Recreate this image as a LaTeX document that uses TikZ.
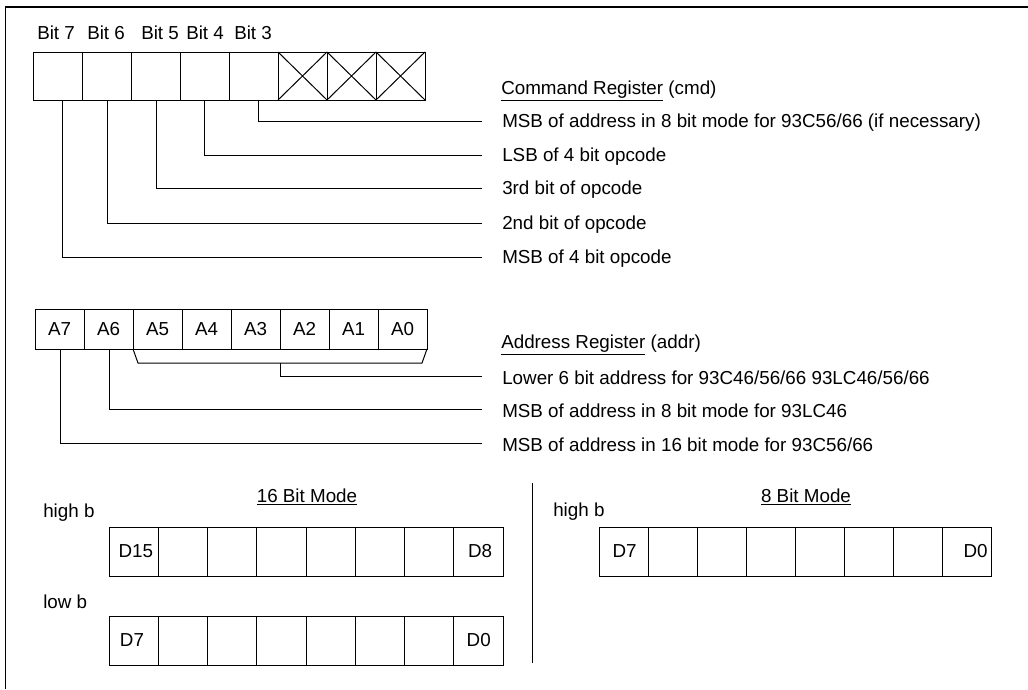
\documentclass[tikz,border=0pt]{standalone}
\usepackage{fontspec}
\setmainfont{Liberation Sans}
\usetikzlibrary{calc}
\tikzset{
  txt/.style={font=\fontsize{14.1}{16}\selectfont, inner sep=0pt, anchor=west},
  ctxt/.style={font=\fontsize{14.1}{16}\selectfont, inner sep=0pt, anchor=center},
  cell/.style={draw, line width=0.75pt, minimum width=36.75pt, minimum height=36pt, inner sep=0pt, outer sep=0pt, anchor=north west},
  acell/.style={cell, minimum height=30pt, font=\fontsize{14.1}{16}\selectfont},
  dcell/.style={cell, minimum width=36.94pt, minimum height=36.75pt},
  lead/.style={line width=0.75pt},
}
\begin{document}
\begin{tikzpicture}[x=0.75pt,y=-0.75pt]
\useasboundingbox (0,0) rectangle (1028,689);
% frame
\draw[line width=1pt] (5.5,689) -- (5.5,7) -- (1028,7);

% command register
\foreach \i/\n in {0/7,1/6,2/5,3/4,4/3,5/2,6/1,7/0}
  \node[cell] (c\n) at ({33+49*\i},52) {};
\foreach \n in {2,1,0}
  \draw[lead] (c\n.north west) -- (c\n.south east) (c\n.north east) -- (c\n.south west);
\node[txt] (b7) at (37,33) {Bit 7};
\node[txt] (b6) at (87,33) {Bit 6};
\node[txt] (b5) at (141,33) {Bit 5};
\node[txt] (b4) at (186,33) {Bit 4};
\node[txt] (b3) at (234,33) {Bit 3};

\node[txt] (cmd) at (501,91) {\underline{Command Register} (cmd)};
\node[txt] (t3) at (502,123) {MSB of address in 8 bit mode for 93C56/66 (if necessary)};
\node[txt] (t4) at (502,157) {LSB of 4 bit opcode};
\node[txt] (t5) at (502,190) {3rd bit of opcode};
\node[txt] (t6) at (502,225) {2nd bit of opcode};
\node[txt] (t7) at (502,259) {MSB of 4 bit opcode};
\draw[lead] ([xshift=3.4pt]c3.south) |- ([xshift=-15pt,yshift=1.5pt]t3.west);
\draw[lead] ([xshift=0pt]c4.south) |- ([xshift=-15pt,yshift=1.5pt]t4.west);
\draw[lead] ([xshift=1.1pt]c5.south) |- ([xshift=-15pt,yshift=1.5pt]t5.west);
\draw[lead] ([xshift=1.1pt]c6.south) |- ([xshift=-15pt,yshift=1.5pt]t6.west);
\draw[lead] ([xshift=3.4pt]c7.south) |- ([xshift=-15pt,yshift=1.5pt]t7.west);

% address register
\foreach \i/\n in {0/7,1/6,2/5,3/4,4/3,5/2,6/1,7/0}
  \node[acell] (a\n) at ({35+49*\i},309) {A\n};
\coordinate (brl) at (138,363);
\coordinate (brr) at (422,363);
\coordinate (brm) at (280,363);
\draw[lead] (a5.south west) -- (brl) -- (brr) -- (a0.south east);
\node[txt] (addr) at (501,345) {\underline{Address Register} (addr)};
\node[txt] (ta) at (502,378) {Lower 6 bit address for 93C46/56/66 93LC46/56/66};
\node[txt] (ta6) at (502,411) {MSB of address in 8 bit mode for 93LC46};
\node[txt] (ta7) at (502,445) {MSB of address in 16 bit mode for 93C56/66};
\draw[lead] (brm) |- ([xshift=-15pt,yshift=1.5pt]ta.west);
\draw[lead] ([xshift=1.1pt]a6.south) |- ([xshift=-15pt,yshift=1.5pt]ta6.west);
\draw[lead] ([xshift=1.1pt]a7.south) |- ([xshift=-15pt,yshift=1.5pt]ta7.west);

% 16 bit mode
\node[ctxt] (m16) at (307,497) {\underline{16 Bit Mode}};
\node[txt] (hb16) at (43,513) {high b};
\node[txt] (lb16) at (43,602) {low b};
\foreach \i in {0,...,7} {
  \node[dcell] (h\i) at ({109+49.25*\i},527) {};
  \node[dcell] (l\i) at ({109+49.25*\i},616) {};
}
\node[txt] (d15) at ([xshift=7pt]h0.west) {D15};
\node[txt, anchor=east] (d8) at ([xshift=-8pt]h7.east) {D8};
\node[txt] (d7l) at ([xshift=8pt]l0.west) {D7};
\node[txt, anchor=east] (d0l) at ([xshift=-9pt]l7.east) {D0};

% divider
\coordinate (dvt) at (532,483);
\coordinate (dvb) at (532,663);
\draw[lead] (dvt) -- (dvb);

% 8 bit mode
\node[ctxt] (m8) at (806,497) {\underline{8 Bit Mode}};
\node[txt] (hb8) at (553,512) {high b};
\foreach \i in {0,...,7}
  \node[dcell] (e\i) at ({599+49.1*\i},527) {};
\node[txt] (d7e) at ([xshift=10pt]e0.west) {D7};
\node[txt, anchor=east] (d0e) at ([xshift=-3pt]e7.east) {D0};
\end{tikzpicture}
\end{document}
